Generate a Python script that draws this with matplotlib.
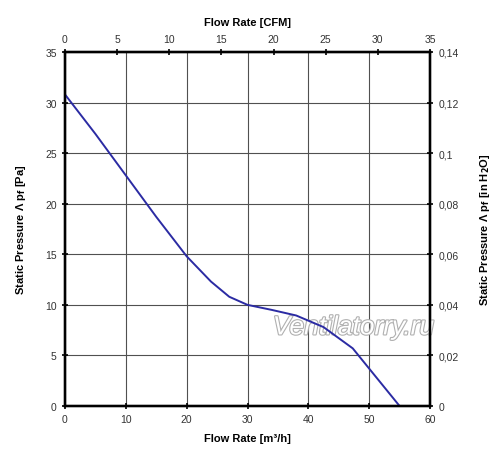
import matplotlib
matplotlib.use("Agg")
import matplotlib.pyplot as plt
import matplotlib.patheffects as pe
from matplotlib.ticker import FuncFormatter

plt.rcParams['font.family'] = ['Liberation Sans', 'DejaVu Sans']

flow_m3h = [0, 5, 10, 15, 20, 24, 27, 30, 34, 38, 42.5, 47.3, 50, 55]
pressure_pa = [30.8, 26.9, 22.8, 18.7, 14.8, 12.3, 10.8, 10.0, 9.5, 8.95, 7.8, 5.7, 3.7, 0]

x_ticks = [0, 10, 20, 30, 40, 50, 60]
y_ticks = [0, 5, 10, 15, 20, 25, 30, 35]
cfm_ticks = [0, 5, 10, 15, 20, 25, 30, 35]
inh2o_ticks = [0, 0.02, 0.04, 0.06, 0.08, 0.1, 0.12, 0.14]

fig = plt.figure(figsize=(5, 4.6), dpi=100)
ax = fig.add_axes([0.13, 0.1152, 0.73, 0.7696])

ax.plot(flow_m3h, pressure_pa, color='#2b2ba3', lw=1.4, zorder=5)
ax.set_xlim(0, 60)
ax.set_ylim(0, 35)
ax.set_xticks(x_ticks)
ax.set_yticks(y_ticks)
ax.grid(True, color='#505050', lw=0.8)

tick_kw = dict(direction='inout', length=5, width=1.2, labelsize=7.5, labelcolor='#333333', color='black')
ax.tick_params(axis='both', **tick_kw)
for s in ax.spines.values():
    s.set_linewidth(1.6)
    s.set_color('black')

ax.set_xlabel('Flow Rate [m³/h]', fontsize=8, fontweight='bold', labelpad=6)
ax.set_ylabel('Static Pressure Λ p$_\\mathbf{f}$ [Pa]', fontsize=8, fontweight='bold', labelpad=12)

axt = ax.twiny()
axt.set_xlim(0, 35)
axt.set_xticks(cfm_ticks)
axt.tick_params(axis='x', **tick_kw)
axt.set_xlabel('Flow Rate [CFM]', fontsize=8, fontweight='bold', labelpad=6)

axr = ax.twinx()
axr.set_ylim(0, 0.14)
axr.set_yticks(inh2o_ticks)
axr.yaxis.set_major_formatter(FuncFormatter(lambda v, p: ('%g' % round(v, 2)).replace('.', ',')))
axr.tick_params(axis='y', **tick_kw)
axr.set_ylabel('Static Pressure Λ p$_\\mathbf{f}$ [in H$_\\mathbf{2}$O]', fontsize=8, fontweight='bold', labelpad=14)
for a in (axt, axr):
    for s in a.spines.values():
        s.set_linewidth(1.6)

ax.text(0.79, 0.222, 'Ventilatorry.ru', transform=ax.transAxes, fontsize=19, style='italic',
        color='white', ha='center', va='center', zorder=4, clip_on=False,
        path_effects=[pe.withStroke(linewidth=1.6, foreground='#b0b0b0')])

fig.savefig('out.png', dpi=100)
